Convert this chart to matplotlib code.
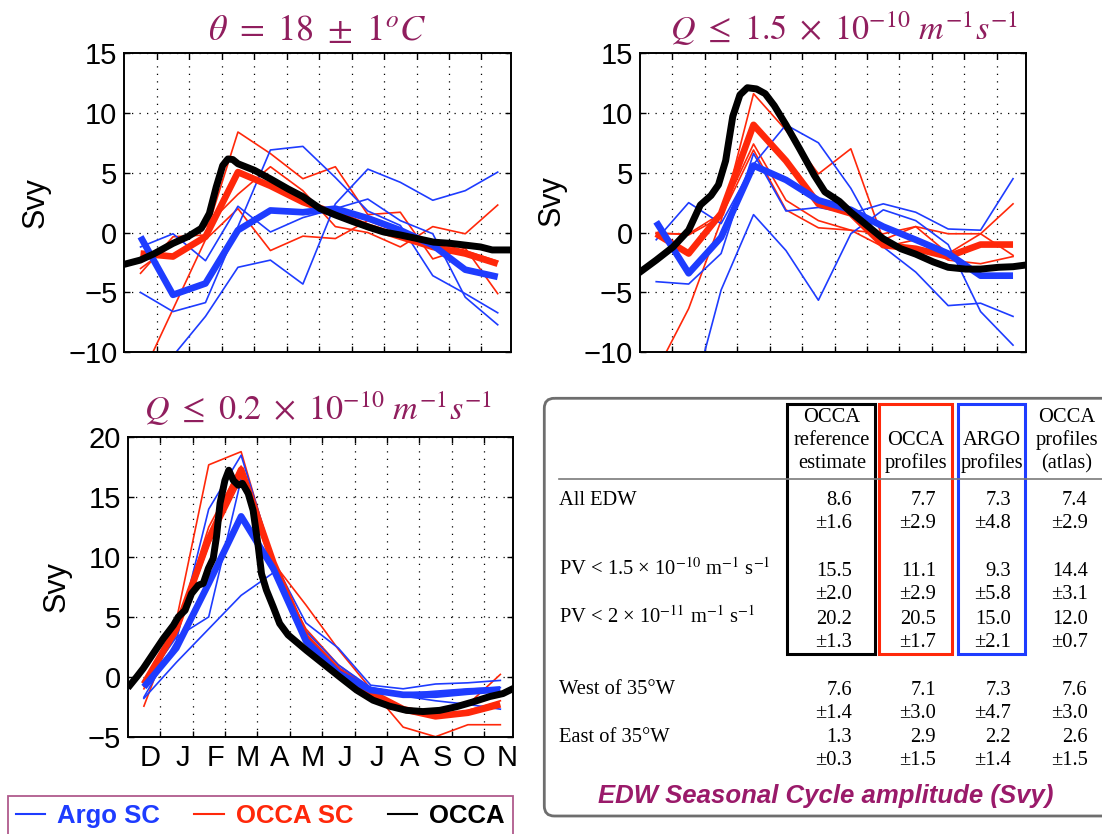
import numpy as np
import matplotlib
matplotlib.use("Agg")
import matplotlib.pyplot as plt
from matplotlib.patches import FancyBboxPatch, Rectangle
from matplotlib.lines import Line2D

plt.rcParams['mathtext.fontset'] = 'stix'
plt.rcParams['font.family'] = ['Liberation Sans', 'DejaVu Sans']

W, H = 1102, 834
BLUE = '#1E3CFF'
RED = '#FF280A'
PURPLE = '#901E5E'

# ---------------- data ----------------
month_x = np.arange(12) + 0.5
month_labels = ['D', 'J', 'F', 'M', 'A', 'M', 'J', 'J', 'A', 'S', 'O', 'N']
nan = np.nan

# Panel 1: theta = 18 +- 1 C
p1_argo_mean = [-0.35, -5.2, -4.25, 0.2, 1.85, 1.7, 2.0, 1.2, 0.2, -1.05, -3.1, -3.7]
p1_occa_sc_mean = [-1.75, -2.0, -0.35, 5.05, 3.9, 2.55, 1.6, 0.5, -0.35, -1.2, -1.75, -2.6]
p1_argo_sc = [
    [-1.2, -0.1, -2.35, 2.2, 0.05, 1.25, 2.0, 2.8, 1.0, -0.1, -5.4, -7.7],
    [-5.0, -6.6, -5.85, 0.5, 6.9, 7.2, 4.6, 1.8, 0.6, -3.6, -5.1, -6.7],
    [nan, -10.3, -7.0, -2.9, -2.3, -4.3, 2.4, 5.3, 4.2, 2.7, 3.5, 5.05],
]
p1_occa_sc = [
    [-3.4, -0.35, -0.2, 8.4, 6.6, 4.5, 5.5, 1.5, 1.7, -2.2, -1.3, -5.1],
    [-12.2, -6.4, -0.6, 2.0, -1.5, -0.3, -0.5, 1.0, 0.0, -0.8, -1.5, -2.4],
    [-3.0, -1.0, 0.5, 3.2, 5.5, 3.5, 0.5, 0.0, -1.2, 0.5, -0.1, 2.3],
]
p1_occa_t = [0.0, 0.49, 0.93, 1.5, 1.95, 2.37, 2.62, 2.83, 3.03, 3.19, 3.34, 3.5, 4.01,
             4.49, 5.04, 5.5, 6.03, 6.52, 7.06, 7.53, 7.99, 8.5, 9.02, 9.53, 10.05,
             10.51, 10.97, 11.33, 11.59, 11.92]
p1_occa = [-2.65, -2.3, -1.75, -0.9, -0.35, 0.35, 1.6, 3.8, 5.6, 6.15, 6.1, 5.75, 5.2,
           4.5, 3.65, 3.0, 2.0, 1.45, 0.9, 0.45, 0.05, -0.2, -0.5, -0.8, -0.9,
           -1.05, -1.2, -1.45, -1.45, -1.45]

# Panel 2: Q <= 1.5e-10
p2_argo_mean = [0.9, -3.4, -0.4, 5.6, 4.4, 2.7, 1.9, 0.5, -0.6, -1.75, -3.6, -3.6]
p2_occa_sc_mean = [-0.1, -1.75, 1.6, 9.0, 6.0, 2.4, 1.6, -1.05, -1.35, -2.0, -1.0, -1.0]
p2_argo_sc = [
    [-0.6, 2.5, 0.75, 5.7, 9.0, 7.5, 3.7, -1.2, -3.3, -6.1, -5.9, -7.0],
    [-4.1, -4.3, -1.75, 6.6, 1.8, 2.1, 1.6, 2.4, 1.7, 0.3, 0.2, 4.5],
    [nan, -15.0, -4.8, 1.5, -1.5, -5.65, -0.1, 1.9, 1.0, -1.0, -6.6, -9.4],
]
p2_occa_sc = [
    [-11.6, -6.35, 1.0, 11.6, 8.55, 4.9, 7.0, -0.6, 0.5, -1.75, -0.1, 2.4],
    [-0.1, -0.1, 1.6, 7.4, 2.7, 1.0, 0.2, -0.1, 0.5, -0.1, -0.1, -1.9],
    [0.0, -0.2, 1.3, 6.9, 1.9, 0.4, 0.2, -1.2, -0.6, -2.3, -2.6, -2.0],
]
p2_occa_t = [0.0, 0.5, 1.02, 1.5, 1.86, 2.19, 2.42, 2.64, 2.86, 3.08, 3.31, 3.59, 3.86,
             4.14, 4.5, 4.92, 5.37, 5.7, 6.15, 6.5, 6.93, 7.49, 8.04, 8.5, 9.04, 9.5,
             10.04, 10.5, 11.05, 11.5, 11.92]
p2_occa = [-3.3, -2.3, -1.2, 0.2, 2.3, 3.1, 4.0, 6.0, 9.7, 11.5, 12.1, 12.0, 11.6,
           10.6, 9.0, 7.0, 4.8, 3.4, 2.6, 1.7, 0.75, -0.5, -1.35, -1.8, -2.45, -2.9,
           -3.05, -3.05, -2.9, -2.85, -2.7]

# Panel 3: Q <= 0.2e-10
p3_argo_mean = [-0.85, 2.4, 7.8, 13.4, 9.0, 3.0, 0.3, -1.1, -1.5, -1.5, -1.25, -1.05]
p3_occa_sc_mean = [-0.6, 4.0, 11.5, 17.3, 9.5, 3.3, 0.5, -1.3, -2.7, -3.3, -3.0, -2.3]
p3_argo_sc = [
    [-1.7, 3.0, 14.0, 18.5, 9.7, 4.5, 2.4, -0.7, -1.0, -0.6, -0.5, -0.3],
    [-1.8, 1.2, 4.0, 6.8, 8.7, 2.8, 0.8, -1.0, -1.6, -2.0, -2.3, -2.7],
    [-0.5, 3.3, 5.0, 16.5, 9.5, 3.8, 1.0, -0.9, -1.4, -1.2, -1.0, -0.9],
]
p3_occa_sc = [
    [-2.45, 4.7, 17.7, 18.8, 9.5, 6.0, 2.3, -1.0, -4.2, -5.0, -4.0, -4.0],
    [-1.0, 4.0, 12.5, 17.6, 9.2, 4.0, 1.0, -1.0, -2.8, -3.2, -2.3, 0.2],
    [-0.8, 3.5, 11.0, 16.5, 9.0, 3.5, 0.5, -1.2, -2.9, -3.4, -2.8, -2.0],
]
p3_occa_t = [0.07, 0.28, 0.48, 0.79, 1.1, 1.41, 1.56, 1.77, 1.97, 2.18, 2.33, 2.49, 2.64,
             2.74, 2.85, 3.0, 3.12, 3.26, 3.41, 3.54, 3.72, 3.87, 4.03, 4.13, 4.28, 4.49,
             4.69, 4.95, 5.52, 6.03, 6.54, 7.06, 7.57, 8.08, 8.6, 9.11, 9.63, 10.14,
             10.65, 11.17, 11.58, 11.88]
p3_occa = [-0.7, 0.0, 0.7, 1.95, 3.2, 4.3, 5.0, 5.55, 6.95, 7.65, 7.8, 9.05, 9.9,
           11.7, 14.5, 16.4, 17.25, 16.4, 16.0, 16.15, 15.3, 13.9, 10.85, 8.6, 7.25, 5.85,
           4.45, 3.5, 2.2, 1.1, 0.0, -1.1, -1.95, -2.45, -2.8, -2.9, -2.8, -2.5,
           -2.1, -1.65, -1.4, -1.0]

titles = [r'$\theta\ =\ 18\ \pm\ 1^oC$',
          r'$Q\ \leq\ 1.5\ \times\ 10^{-10}\ m^{-1}s^{-1}$',
          r'$Q\ \leq\ 0.2\ \times\ 10^{-10}\ m^{-1}s^{-1}$']

# table data
col_headers = [['OCCA', 'reference', 'estimate'], ['OCCA', 'profiles'],
               ['ARGO', 'profiles'], ['OCCA', 'profiles', '(atlas)']]
row_labels = ['All EDW',
              r'PV < 1.5 × 10$^{-10}$ m$^{-1}$ s$^{-1}$',
              r'PV < 2 × 10$^{-11}$ m$^{-1}$ s$^{-1}$',
              'West of 35°W', 'East of 35°W']
amp_ref = [8.6, 15.5, 20.2, 7.6, 1.3]
err_ref = [1.6, 2.0, 1.3, 1.4, 0.3]
amp_occa_prof = [7.7, 11.1, 20.5, 7.1, 2.9]
err_occa_prof = [2.9, 2.9, 1.7, 3.0, 1.5]
amp_argo_prof = [7.3, 9.3, 15.0, 7.3, 2.2]
err_argo_prof = [4.8, 5.8, 2.1, 4.7, 1.4]
amp_atlas = [7.4, 14.4, 12.0, 7.6, 2.6]
err_atlas = [2.9, 3.1, 0.7, 3.0, 1.5]

# ---------------- figure ----------------
fig = plt.figure(figsize=(W / 100, H / 100), dpi=100)


def px_axes(l, t, r, b):
    return fig.add_axes([l / W, 1 - b / H, (r - l) / W, (b - t) / H])


axes = [px_axes(124.3, 53, 510.7, 352.3),
        px_axes(640, 53, 1026, 352.3),
        px_axes(127.7, 437.3, 513.3, 736.7)]
ylims = [(-10, 15), (-10, 15), (-5, 20)]
panels = [
    (p1_argo_sc, p1_occa_sc, p1_argo_mean, p1_occa_sc_mean, p1_occa_t, p1_occa),
    (p2_argo_sc, p2_occa_sc, p2_argo_mean, p2_occa_sc_mean, p2_occa_t, p2_occa),
    (p3_argo_sc, p3_occa_sc, p3_argo_mean, p3_occa_sc_mean, p3_occa_t, p3_occa),
]

for ax, (asc, osc, am, om, ot, oc), yl in zip(axes, panels, ylims):
    for s in osc:
        ax.plot(month_x, s, color=RED, lw=1.2, zorder=2)
    for s in asc:
        ax.plot(month_x, s, color=BLUE, lw=1.2, zorder=2)
    ax.plot(month_x, om, color=RED, lw=4.8, zorder=3, solid_capstyle='butt')
    ax.plot(month_x, am, color=BLUE, lw=4.8, zorder=4, solid_capstyle='butt')
    ax.plot(ot, oc, color='black', lw=5.0, zorder=5, solid_joinstyle='round')
    ax.set_xlim(0, 11.9)
    ax.set_ylim(*yl)
    ax.set_yticks(np.arange(yl[0], yl[1] + 1, 5))
    ax.set_xticks(np.arange(1, 12))
    ax.set_xticklabels([])
    ax.grid(True, color='black', linestyle=(0, (1, 5)), linewidth=0.9)
    ax.tick_params(direction='in', top=True, right=True, length=4, width=1,
                   labelsize=21, pad=5)
    for sp in ax.spines.values():
        sp.set_linewidth(1.4)

ax3 = axes[2]
ax3.set_xticks(month_x + 0.2, minor=True)
ax3.set_xticklabels(month_labels, minor=True)
ax3.tick_params(axis='x', which='minor', length=0, labelsize=21, pad=5.5)

# titles and y labels
title_pos = [(317, 40, 26), (844, 40, 24.5), (318, 420, 24.5)]
for t, (x, y, fs) in zip(titles, title_pos):
    fig.text(x / W, 1 - y / H, t, ha='center', va='baseline', fontsize=fs, color=PURPLE)
for x, y in [(36, 203), (552, 201), (57, 587)]:
    fig.text(x / W, 1 - y / H, 'Svy', rotation=90, ha='center', va='center', fontsize=22)

# legend
handles = [Line2D([], [], color=BLUE, lw=1.5), Line2D([], [], color=RED, lw=1.5),
           Line2D([], [], color='black', lw=1.5)]
leg = fig.legend(handles, ['Argo SC', 'OCCA SC', 'OCCA'], loc='upper left',
                 bbox_to_anchor=(7.6 / W, 1 - 796 / H), borderaxespad=0, ncol=3,
                 prop={'family': 'Liberation Sans', 'weight': 'bold', 'size': 18.5},
                 labelcolor=[BLUE, RED, 'black'], handlelength=1.14, handletextpad=0.47,
                 columnspacing=1.35, borderpad=0.31, fancybox=False,
                 edgecolor='#B05A8C', framealpha=1)
leg.get_frame().set_linewidth(1.3)

# table overlay
ov = fig.add_axes([0, 0, 1, 1])
ov.set_xlim(0, W)
ov.set_ylim(H, 0)
ov.axis('off')
ov.add_patch(FancyBboxPatch((544.3, 398.3), 620, 417.7,
                            boxstyle='round,pad=0,rounding_size=10',
                            ec='#6E6E6E', fc='none', lw=2))
ov.plot([558.6, 1102], [479, 479], color='#7A7A7A', lw=1.2)
for (x0, x1), c in zip([(786.6, 875), (879, 952), (957.6, 1025)], ['black', RED, BLUE]):
    ov.add_patch(Rectangle((x0, 404), x1 - x0, 250, ec=c, fc='none', lw=2.2))

serif = {'family': 'Liberation Serif', 'size': 14.8}
col_centers = [832, 916, 992, 1067]
header_baselines = [422, 445, 468]
for cx, lines in zip(col_centers, col_headers):
    bl = header_baselines[3 - len(lines):]
    for s, y in zip(lines, bl):
        ov.text(cx, y, s, ha='center', va='baseline', fontdict=serif)

val_baselines = [505, 576, 624, 695, 742]
err_baselines = [528, 599, 647, 718, 765]
label_baselines = [505, 575, 623, 694, 742]
for lab, y in zip(row_labels, label_baselines):
    ov.text(558.6, y, lab, ha='left', va='baseline', fontdict=serif)

col_right = [851.8, 936, 1011, 1087.7]
for xr, vals, errs in zip(col_right,
                          [amp_ref, amp_occa_prof, amp_argo_prof, amp_atlas],
                          [err_ref, err_occa_prof, err_argo_prof, err_atlas]):
    for v, e, yv, ye in zip(vals, errs, val_baselines, err_baselines):
        ov.text(xr, yv, f'{v:.1f}', ha='right', va='baseline', fontdict=serif)
        ov.text(xr, ye, f'±{e:.1f}', ha='right', va='baseline', fontdict=serif)

ov.text(826, 803, 'EDW Seasonal Cycle amplitude (Svy)', ha='center', va='baseline',
        fontsize=18.5, fontweight='bold', fontstyle='italic', color='#9A1A6A',
        family='Liberation Sans')

fig.savefig('out.png', dpi=100)
